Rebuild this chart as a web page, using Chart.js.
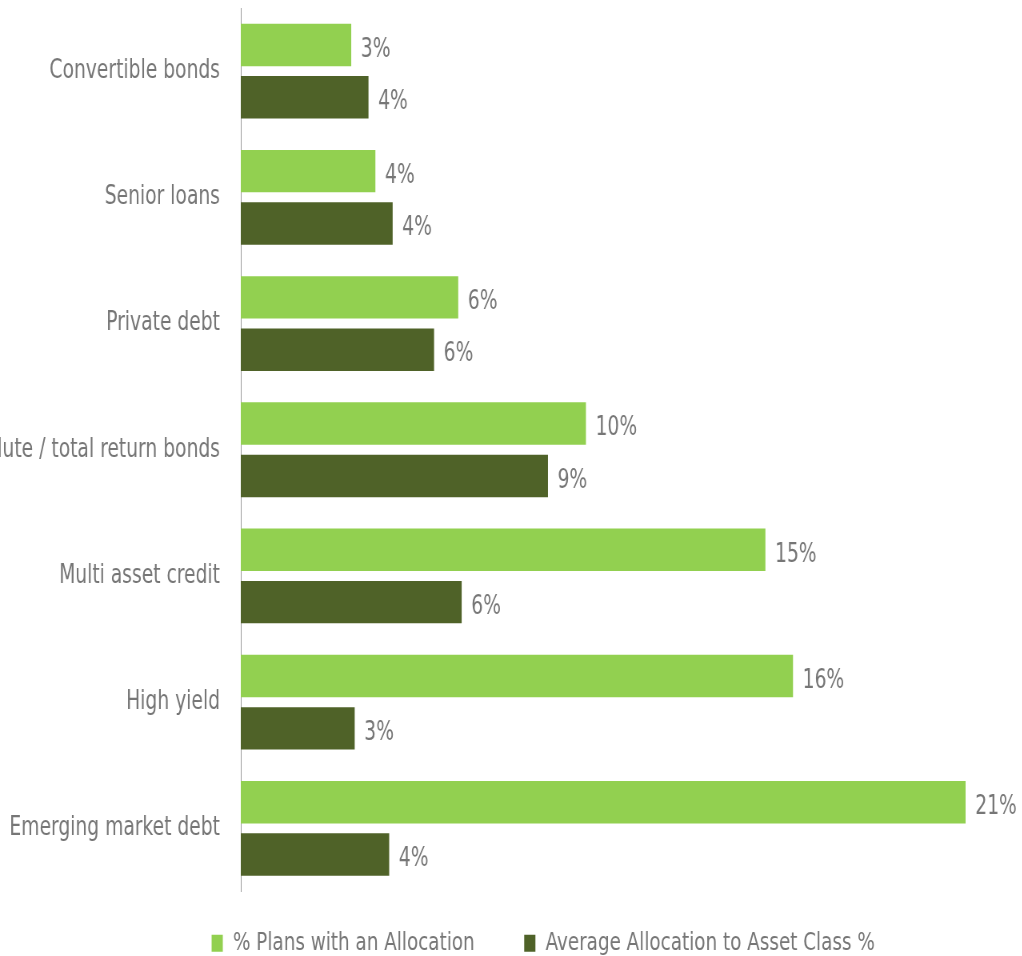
<!DOCTYPE html>
<html>
<head>
<meta charset="utf-8">
<title>Fixed income allocations</title>
<script src="https://cdn.jsdelivr.net/npm/chart.js@4.4.0/dist/chart.umd.min.js"></script>
<style>
  html, body { margin: 0; padding: 0; background: #ffffff; overflow: hidden; }
  /* the chart is laid out wide and then squeezed horizontally */
  #wrap {
    position: relative;
    width: 1358px;
    height: 956px;
    transform: scaleX(0.8);
    transform-origin: 0 0;
  }
</style>
</head>
<body>
<div id="wrap"><canvas id="allocChart"></canvas></div>
<script>
const categories = [
    "Convertible bonds",
    "Senior loans",
    "Private debt",
    "Absolute / total return bonds",
    "Multi asset credit",
    "High yield",
    "Emerging market debt"
];
const plansWithAllocation = [3.2, 3.9, 6.3, 10.0, 15.2, 16.0, 21.0];
const averageAllocation = [3.7, 4.4, 5.6, 8.9, 6.4, 3.3, 4.3];
const seriesNames = ["% Plans with an Allocation", "Average Allocation to Asset Class %"];

const FONT = "'DejaVu Sans Condensed', 'DejaVu Sans', sans-serif";
const TEXT_GREY = "#767676";

// value labels to the right of each bar
const barValueLabels = {
    id: "barValueLabels",
    afterDatasetsDraw(chart) {
        const ctx = chart.ctx;
        ctx.save();
        ctx.font = "26px " + FONT;
        ctx.fillStyle = TEXT_GREY;
        ctx.textAlign = "left";
        ctx.textBaseline = "middle";
        chart.data.datasets.forEach((ds, i) => {
            chart.getDatasetMeta(i).data.forEach((bar, j) => {
                ctx.fillText(Math.round(ds.data[j]) + "%", bar.x + 12, bar.y + 5);
            });
        });
        ctx.restore();
    }
};

new Chart(document.getElementById("allocChart"), {
    type: "bar",
    plugins: [barValueLabels],
    data: {
        labels: categories,
        datasets: [
            {
                label: seriesNames[0],
                data: plansWithAllocation,
                backgroundColor: "#92d050",
                categoryPercentage: 0.83,
                barPercentage: 0.81
            },
            {
                label: seriesNames[1],
                data: averageAllocation,
                backgroundColor: "#4f6228",
                categoryPercentage: 0.83,
                barPercentage: 0.81
            }
        ]
    },
    options: {
        indexAxis: "y",
        responsive: true,
        maintainAspectRatio: false,
        animation: false,
        layout: { padding: { top: 8, right: 0, left: 0, bottom: -10 } },
        scales: {
            x: {
                display: false,
                min: 0,
                max: 24.5
            },
            y: {
                grid: { display: false, drawTicks: true, tickLength: 26 },
                border: { display: true, color: "#9a9a9a", width: 1 },
                ticks: {
                    padding: 0,
                    color: TEXT_GREY,
                    font: { family: FONT, size: 26 }
                },
                afterFit(scale) {
                    scale.width = 301;
                    // long labels may run off the left edge, no extra room above/below
                    scale.paddingTop = 0;
                    scale.paddingBottom = 0;
                }
            }
        },
        plugins: {
            tooltip: { enabled: false },
            legend: {
                position: "bottom",
                labels: {
                    boxWidth: 14,
                    boxHeight: 17,
                    padding: 39,
                    color: TEXT_GREY,
                    font: { family: FONT, size: 25.5 },
                    generateLabels(chart) {
                        const items = Chart.defaults.plugins.legend.labels.generateLabels(chart);
                        items[0].text += "\u2003";
                        return items;
                    }
                }
            }
        }
    }
});
</script>
</body>
</html>
